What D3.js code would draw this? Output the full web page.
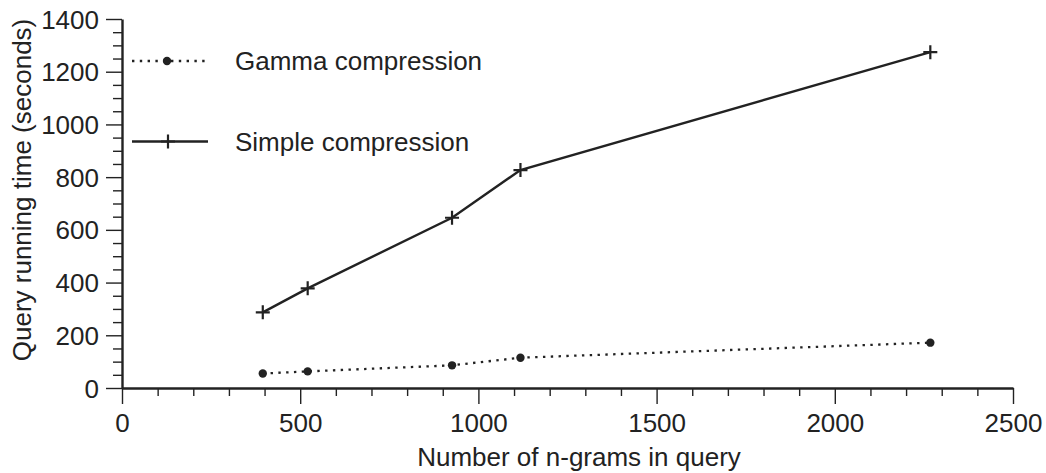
<!DOCTYPE html>
<html>
<head>
<meta charset="utf-8">
<script src="https://cdn.jsdelivr.net/npm/d3@7"></script>
<style>
  html, body { margin: 0; padding: 0; background: #fff; }
  svg { display: block; font-family: "Liberation Sans", Arial, Helvetica, sans-serif; }
</style>
</head>
<body>
<svg id="chart" width="1046" height="473"></svg>
<script>
// Query size (number of n-grams) for each measured query
const nGrams = [395, 521, 926, 1118, 2268];
// Running time in seconds for each index encoding
const gammaTimes = [55, 63, 86, 115, 172];
const simpleTimes = [287, 378, 646, 827, 1274];

const xMajorTicks = [0, 500, 1000, 1500, 2000, 2500];
const yMajorTicks = [0, 200, 400, 600, 800, 1000, 1200, 1400];
const seriesNames = ["Gamma compression", "Simple compression"];
const xTitle = "Number of n-grams in query";
const yTitle = "Query running time (seconds)";

const ink = "#222";
const svg = d3.select("#chart");
const margin = { left: 122, top: 19, right: 33, bottom: 85 };
const W = 1046, H = 473;

const x = d3.scaleLinear().domain([0, 2500]).range([margin.left, W - margin.right]);
const y = d3.scaleLinear().domain([0, 1400]).range([H - margin.bottom, margin.top]);

const xMinor = d3.range(0, 2501, 100).filter(v => v % 500 !== 0);
const yMinor = d3.range(0, 1401, 50).filter(v => v % 200 !== 0);

// Minor ticks
svg.append("g")
  .attr("transform", `translate(0,${y(0)})`)
  .call(d3.axisBottom(x).tickValues(xMinor).tickSize(8).tickSizeOuter(0).tickFormat(""))
  .call(g => g.select(".domain").remove())
  .call(g => g.selectAll(".tick line").attr("stroke", ink).attr("stroke-width", 1.4));
svg.append("g")
  .attr("transform", `translate(${x(0)},0)`)
  .call(d3.axisLeft(y).tickValues(yMinor).tickSize(9).tickSizeOuter(0).tickFormat(""))
  .call(g => g.select(".domain").remove())
  .call(g => g.selectAll(".tick line").attr("stroke", ink).attr("stroke-width", 1.4));

// Major ticks with labels
const xAxis = svg.append("g")
  .attr("transform", `translate(0,${y(0)})`)
  .call(d3.axisBottom(x).tickValues(xMajorTicks).tickSize(16).tickSizeOuter(0).tickPadding(10).tickFormat(d3.format("d")));
const yAxis = svg.append("g")
  .attr("transform", `translate(${x(0)},0)`)
  .call(d3.axisLeft(y).tickValues(yMajorTicks).tickSize(16).tickSizeOuter(0).tickPadding(7).tickFormat(d3.format("d")));

[xAxis, yAxis].forEach(g => {
  g.select(".domain").attr("stroke", ink).attr("stroke-width", 2.4);
  g.selectAll(".tick line").attr("stroke", ink).attr("stroke-width", 1.4);
  g.selectAll(".tick text")
    .attr("fill", ink)
    .style("font-size", "26px")
    .style("font-family", '"Liberation Sans", Arial, sans-serif');
});
yAxis.selectAll(".tick text").attr("dy", "0.35em");
xAxis.select(".domain").raise();

// Axis titles
svg.append("text")
  .attr("x", 579)
  .attr("y", 466)
  .attr("text-anchor", "middle")
  .attr("fill", ink)
  .style("font-size", "26px")
  .text(xTitle);

svg.append("text")
  .attr("transform", `translate(31,190) rotate(-90)`)
  .attr("text-anchor", "middle")
  .attr("fill", ink)
  .style("font-size", "26px")
  .text(yTitle);

// Series
const gammaPts = nGrams.map((n, i) => [n, gammaTimes[i]]);
const simplePts = nGrams.map((n, i) => [n, simpleTimes[i]]);
const line = d3.line().x(d => x(d[0])).y(d => y(d[1]));

svg.append("path")
  .datum(gammaPts)
  .attr("d", line)
  .attr("fill", "none")
  .attr("stroke", ink)
  .attr("stroke-width", 2.3)
  .attr("stroke-dasharray", "2.4,5.4");

svg.append("g").selectAll("circle")
  .data(gammaPts)
  .join("circle")
  .attr("cx", d => x(d[0]))
  .attr("cy", d => y(d[1]))
  .attr("r", 4.2)
  .attr("fill", ink);

svg.append("path")
  .datum(simplePts)
  .attr("d", line)
  .attr("fill", "none")
  .attr("stroke", ink)
  .attr("stroke-width", 2.4);

const crossHalf = 7;
const crossPath = `M${-crossHalf},0H${crossHalf}M0,${-crossHalf}V${crossHalf}`;
svg.append("g").selectAll("path")
  .data(simplePts)
  .join("path")
  .attr("d", crossPath)
  .attr("transform", d => `translate(${x(d[0])},${y(d[1])})`)
  .attr("stroke", ink)
  .attr("stroke-width", 2.2)
  .attr("fill", "none");

// Legend
const legend = svg.append("g");
const legendRows = [
  { name: seriesNames[0], cy: 61, dotted: true },
  { name: seriesNames[1], cy: 141.5, dotted: false }
];
legendRows.forEach(r => {
  legend.append("line")
    .attr("x1", 132).attr("x2", r.dotted ? 206 : 208)
    .attr("y1", r.cy).attr("y2", r.cy)
    .attr("stroke", ink)
    .attr("stroke-width", r.dotted ? 2.3 : 2.4)
    .attr("stroke-dasharray", r.dotted ? "2.4,5.4" : null);
  if (r.dotted) {
    legend.append("circle").attr("cx", 167).attr("cy", r.cy).attr("r", 4.2).attr("fill", ink);
  } else {
    legend.append("path")
      .attr("d", crossPath)
      .attr("transform", `translate(168,${r.cy})`)
      .attr("stroke", ink).attr("stroke-width", 2.2).attr("fill", "none");
  }
  legend.append("text")
    .attr("x", 235)
    .attr("y", r.cy)
    .attr("dy", "0.35em")
    .attr("fill", ink)
    .style("font-size", "26px")
    .text(r.name);
});
</script>
</body>
</html>
